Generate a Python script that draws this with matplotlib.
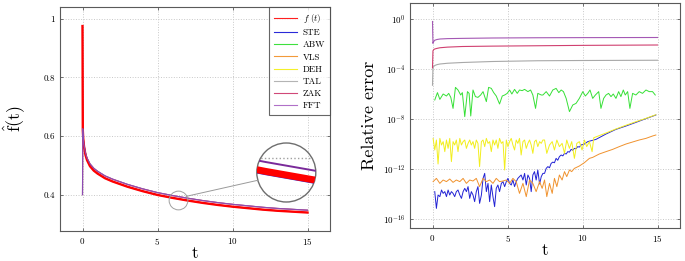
import matplotlib
matplotlib.use("Agg")
import matplotlib.pyplot as plt
from matplotlib.lines import Line2D
from matplotlib.patches import Circle, ConnectionPatch
from matplotlib.transforms import offset_copy
import numpy as np

## fonts / style ##
plt.rcParams['font.family'] = 'serif'
plt.rcParams['font.serif'] = ['cmr10', 'DejaVu Serif']
plt.rcParams['mathtext.fontset'] = 'cm'
plt.rcParams['axes.formatter.use_mathtext'] = True
plt.rcParams['axes.unicode_minus'] = False

## ---------------- data : left panel (approximation f(t)) ---------------- ##
t_left = [0, 0.02, 0.05, 0.1, 0.2, 0.3, 0.5, 0.75, 1, 1.5, 2, 3, 4, 5, 6, 7, 8, 9, 10, 11, 12, 13, 14, 15]
f_exact = [0.975, 0.62, 0.59, 0.565, 0.535, 0.518, 0.497, 0.482, 0.472, 0.456, 0.445, 0.427, 0.412,
           0.399, 0.389, 0.380, 0.372, 0.365, 0.359, 0.354, 0.349, 0.345, 0.342, 0.339]
f_upper = [0.40, 0.625, 0.595, 0.57, 0.542, 0.525, 0.505, 0.49, 0.48, 0.464, 0.453, 0.435, 0.42,
           0.407, 0.397, 0.388, 0.38, 0.373, 0.367, 0.362, 0.357, 0.353, 0.35, 0.347]

legend_labels = [r'$f\ (t)$', 'STE', 'ABW', 'VLS', 'DEH', 'TAL', 'ZAK', 'FFT']
colors = {'f': '#ff2020', 'STE': '#2a2ad8', 'ABW': '#3ee03e', 'VLS': '#f29a3a',
          'DEH': '#f4f02a', 'TAL': '#b4b4b4', 'ZAK': '#d04878', 'FFT': '#b070c8'}

## ---------------- data : right panel (relative errors, log10) ---------------- ##
t_top = [0, 0.03, 0.08, 0.15, 0.3, 0.5, 1, 2, 4, 7, 10, 15]
fft_err = [-0.2, -1.95, -1.8, -1.7, -1.64, -1.6, -1.57, -1.55, -1.52, -1.5, -1.49, -1.48]
zak_err = [-3.9, -2.55, -2.45, -2.4, -2.35, -2.3, -2.25, -2.2, -2.17, -2.14, -2.11, -2.08]
tal_err = [-5.3, -3.9, -3.8, -3.72, -3.65, -3.6, -3.54, -3.48, -3.4, -3.34, -3.32, -3.3]

t_abw = [0.15, 0.33, 0.49, 0.71, 0.93, 1.08, 1.22, 1.37, 1.53, 1.70, 1.88, 1.99, 2.15, 2.33, 2.44,
         2.55, 2.70, 2.86, 3.03, 3.21, 3.37, 3.59, 3.74, 3.92, 4.08, 4.25, 4.47, 4.65, 4.81, 4.98,
         5.14, 5.29, 5.47, 5.65, 5.80, 5.98, 6.14, 6.36, 6.54, 6.69, 6.87, 7.02, 7.25, 7.36, 7.58,
         7.80, 8.02, 8.24, 8.42, 8.58, 8.73, 8.91, 9.13, 9.35, 9.57, 9.79, 10.02, 10.19, 10.35,
         10.50, 10.68, 10.86, 11.08, 11.23, 11.41, 11.57, 11.74, 11.90, 12.05, 12.23, 12.41, 12.56,
         12.72, 12.85, 13.01, 13.16, 13.34, 13.56, 13.78, 14.0, 14.23, 14.45, 14.67, 14.85]
abw_err = [-6.48, -5.89, -6.43, -6.0, -6.16, -5.95, -6.27, -7.15, -5.47, -5.68, -6.08, -5.89, -7.81,
           -5.81, -5.95, -7.76, -5.68, -6.21, -6.27, -6.08, -5.81, -6.61, -5.47, -5.55, -5.89, -6.16,
           -6.8, -6.16, -6.08, -5.95, -5.68, -6.0, -5.63, -5.95, -5.68, -5.73, -5.63, -5.81, -5.68,
           -6.08, -7.15, -5.95, -6.08, -6.08, -5.81, -6.16, -5.68, -5.55, -5.89, -5.68, -5.81, -6.35,
           -7.41, -6.88, -6.75, -6.35, -5.81, -6.16, -5.95, -5.68, -6.35, -6.08, -5.81, -7.15, -6.35,
           -6.08, -5.95, -6.21, -6.0, -6.35, -5.81, -6.21, -5.68, -6.08, -5.81, -7.15, -5.95, -6.08,
           -5.81, -5.95, -5.68, -5.81, -5.81, -6.08]

t_deh = [0.04, 0.15, 0.26, 0.37, 0.49, 0.60, 0.71, 0.82, 0.93, 1.04, 1.15, 1.26, 1.37, 1.48, 1.59,
         1.70, 1.82, 1.93, 2.04, 2.15, 2.26, 2.37, 2.48, 2.59, 2.70, 2.81, 2.92, 3.03, 3.14, 3.26,
         3.37, 3.48, 3.59, 3.70, 3.81, 3.92, 4.03, 4.14, 4.25, 4.36, 4.47, 4.59, 4.70, 4.81, 4.92,
         5.03, 5.14, 5.25, 5.36, 5.47, 5.58, 5.69, 5.80, 5.91, 6.03, 6.14, 6.25, 6.36, 6.47, 6.58,
         6.69, 6.80, 6.91, 7.02, 7.14, 7.25, 7.36, 7.47, 7.62, 7.80, 7.98, 8.13, 8.29, 8.46, 8.64,
         8.80, 8.95, 9.13, 9.28, 9.46, 9.62, 9.79, 9.97, 10.13, 10.28, 10.46, 10.64, 10.75, 11.57,
         12.23, 12.90, 13.56, 14.23, 14.89]
deh_err = [-9.55, -10.48, -9.68, -11.6, -9.55, -10.08, -9.81, -10.61, -9.68, -10.35, -9.55, -11.41,
           -9.81, -10.08, -9.68, -10.61, -9.55, -10.08, -9.81, -9.68, -10.35, -9.95, -9.68, -10.08,
           -9.81, -10.35, -9.68, -9.95, -11.81, -9.81, -9.68, -10.21, -9.55, -9.95, -9.81, -10.61,
           -9.68, -10.08, -9.68, -10.35, -9.55, -9.95, -9.81, -12.08, -9.68, -10.21, -9.81, -9.55,
           -10.08, -10.48, -9.68, -9.95, -9.55, -10.88, -9.81, -9.68, -10.35, -9.95, -9.68, -10.08,
           -10.75, -9.81, -9.68, -10.21, -9.81, -9.95, -9.68, -9.68, -10.75, -10.08, -9.81, -10.48,
           -9.68, -10.21, -9.95, -10.75, -9.68, -10.35, -9.81, -11.15, -9.95, -9.81, -10.48, -9.68,
           -10.21, -9.81, -10.61, -9.5, -9.12, -8.8, -8.5, -8.22, -7.95, -7.66]

t_ste = [0.15, 0.26, 0.37, 0.49, 0.60, 0.71, 0.82, 0.93, 1.04, 1.15, 1.26, 1.37, 1.48, 1.59, 1.70,
         1.82, 1.93, 2.04, 2.15, 2.26, 2.37, 2.48, 2.59, 2.70, 2.81, 2.92, 3.03, 3.14, 3.26, 3.37,
         3.48, 3.59, 3.70, 3.81, 3.92, 4.03, 4.14, 4.25, 4.36, 4.47, 4.59, 4.70, 4.81, 4.92, 5.03,
         5.14, 5.25, 5.36, 5.47, 5.58, 5.69, 5.80, 5.91, 6.03, 6.14, 6.25, 6.36, 6.47, 6.58, 6.69,
         6.80, 6.91, 7.02, 7.14, 7.25, 7.36, 7.47, 7.58, 7.69, 7.80, 7.91, 8.02, 8.13, 8.24, 8.35,
         8.46, 8.58, 8.69, 8.80, 8.91, 9.02, 9.13, 9.24, 9.35, 9.46, 9.57, 9.68, 9.79, 9.90, 10.13,
         10.35, 10.9, 11.57, 12.23, 12.9, 13.56, 14.23, 14.89]
ste_err = [-13.81, -15.15, -14.08, -14.21, -13.68, -13.95, -13.81, -14.21, -13.68, -14.08, -13.81,
           -13.95, -14.21, -13.81, -13.68, -14.08, -14.35, -13.81, -13.55, -13.81, -13.41, -14.35,
           -13.81, -14.08, -14.61, -13.81, -13.41, -14.75, -14.08, -12.75, -12.35, -13.81, -13.15,
           -14.61, -13.28, -14.21, -15.01, -13.55, -13.28, -13.81, -13.15, -13.01, -13.41, -13.01,
           -12.75, -13.15, -13.28, -12.88, -13.41, -13.01, -12.75, -12.61, -12.48, -12.88, -12.35,
           -13.28, -12.48, -12.75, -13.81, -12.48, -12.21, -12.88, -12.08, -13.2, -12.61, -12.35,
           -12.35, -11.95, -11.81, -11.9, -11.55, -11.45, -11.5, -11.15, -11.3, -11.01, -10.88,
           -10.95, -10.75, -10.8, -10.61, -10.65, -10.43, -10.5, -10.35, -10.38, -10.21, -10.25,
           -10.08, -10.0, -9.81, -9.63, -9.2, -8.83, -8.56, -8.27, -7.97, -7.68]

t_vls = [0.04, 0.26, 0.49, 0.71, 0.93, 1.15, 1.37, 1.59, 1.82, 2.04, 2.26, 2.48, 2.70, 2.92, 3.14,
         3.37, 3.59, 3.81, 4.03, 4.25, 4.47, 4.70, 4.92, 5.14, 5.36, 5.58, 5.80, 6.03, 6.25, 6.47,
         6.69, 6.91, 7.14, 7.31, 7.47, 7.62, 7.80, 7.98, 8.13, 8.29, 8.46, 8.64, 8.80, 8.95, 9.13,
         9.28, 9.46, 9.79, 10.13, 10.46, 10.68, 11.12, 11.57, 12.01, 12.45, 12.90, 13.34, 13.78,
         14.23, 14.67, 14.89]
vls_err = [-13.01, -12.75, -13.15, -12.88, -13.01, -12.8, -13.07, -12.88, -13.01, -12.75, -13.15,
           -12.88, -12.96, -12.75, -13.41, -12.75, -13.01, -12.88, -13.15, -12.75, -13.01, -12.96,
           -12.88, -13.15, -12.75, -13.01, -13.95, -13.15, -14.21, -12.88, -13.15, -13.81, -13.01,
           -13.55, -12.88, -14.21, -13.15, -13.95, -12.75, -13.41, -12.48, -12.88, -12.21, -12.61,
           -12.08, -12.21, -11.95, -11.76, -11.49, -11.15, -11.07, -10.8, -10.61, -10.43, -10.21,
           -10.0, -9.84, -9.68, -9.55, -9.36, -9.28]

## ---------------- figure ---------------- ##
fig = plt.figure(figsize=(6.85, 2.61), dpi=100)
ax1 = fig.add_axes([60 / 685, 30 / 261, 270 / 685, 224 / 261])
ax2 = fig.add_axes([410 / 685, 33 / 261, 270 / 685, 225 / 261])

def style_axis(ax):
    for sp in ax.spines.values():
        sp.set_color('#5a5a5a')
        sp.set_linewidth(0.8)
    ax.tick_params(direction='in', length=2.5, width=0.6, color='#5a5a5a',
                   top=True, right=True, labelsize=6.5, pad=3.5)
    ax.grid(True, which='major', linestyle=':', color='#c8c8c8', linewidth=0.7)
    ax.set_axisbelow(True)

## left panel ##
style_axis(ax1)
ax1.plot(t_left, f_upper, color=colors['TAL'], lw=0.8)
ax1.plot(t_left, f_upper, color=colors['ZAK'], lw=0.8)
ax1.plot(t_left, f_exact, color=colors['STE'], lw=0.8)
ax1.plot(t_left, f_exact, color='#ff0000', lw=1.7)
ax1.plot(t_left, f_upper, color='#8c4cb4', lw=0.8)
ax1.set_xlim(-1.5, 16.5)
ax1.set_ylim(0.276, 1.04)
ax1.set_xticks([0, 5, 10, 15])
ax1.set_yticks([0.4, 0.6, 0.8, 1.0])
ax1.set_yticklabels(['0.4', '0.6', '0.8', '1'])
ax1.set_xlabel('t', fontsize=12, labelpad=-1)
ax1.set_ylabel(r'$\hat{\mathrm{f}}(\mathrm{t})$', fontsize=13, labelpad=12)

handles = [Line2D([], [], color=colors[k], lw=0.8) for k in ['f', 'STE', 'ABW', 'VLS', 'DEH', 'TAL', 'ZAK', 'FFT']]
leg = ax1.legend(handles, legend_labels, loc='upper right', fontsize=6.5, frameon=True,
                 fancybox=False, borderaxespad=0, handlelength=2.6, handletextpad=0.6,
                 labelspacing=0.42, borderpad=0.55)
leg.get_frame().set_edgecolor('#404040')
leg.get_frame().set_linewidth(0.8)

## magnifier ##
zoom_t, zoom_y = 6.35, 0.381
ax1.plot([zoom_t], [zoom_y], marker='o', markersize=13.5, markerfacecolor='none',
         markeredgecolor='#a0a0a0', markeredgewidth=0.7)
ax_in = fig.add_axes([256.8 / 685, 59 / 261, 59 / 685, 59 / 261])
ax_in.set_axis_off()
mag = 4.0
half_t = 29.5 / (15.0 * mag)
half_y = 29.5 / (293.0 * mag)
ax_in.set_xlim(zoom_t - half_t, zoom_t + half_t)
ax_in.set_ylim(0.388 - half_y, 0.388 + half_y)
clip = Circle((0.5, 0.5), 0.5, transform=ax_in.transAxes, facecolor='none')
ax_in.add_patch(clip)
blue_tr = offset_copy(ax_in.transData, fig=fig, y=-3.2, units='dots')
ins_lines = [
    ax_in.axhline(0.4, color='#a0a0a0', ls=':', lw=1.0),
    ax_in.plot(t_left, f_exact, color=colors['STE'], lw=0.9, transform=blue_tr)[0],
    ax_in.plot(t_left, f_exact, color='#ff0000', lw=5.0)[0],
    ax_in.plot(t_left, f_upper, color='#7a2a9a', lw=1.4)[0],
]
for ln in ins_lines:
    ln.set_clip_path(clip)
ring = Circle((0.5, 0.5), 0.5, transform=ax_in.transAxes, facecolor='none',
              edgecolor='#6e6e6e', lw=1.0, clip_on=False)
ax_in.add_patch(ring)
con = ConnectionPatch(xyA=(zoom_t + 0.55, zoom_y + 0.013), coordsA=ax1.transData,
                      xyB=(0.025, 0.37), coordsB=ax_in.transAxes, color='#9a9a9a', lw=0.7)
fig.add_artist(con)

## right panel ##
style_axis(ax2)
ax2.set_yscale('log')
ax2.plot(t_ste, 10.0 ** np.array(ste_err), color='#2222d4', lw=0.7)
ax2.plot(t_abw, 10.0 ** np.array(abw_err), color='#36e036', lw=0.7)
ax2.plot(t_vls, 10.0 ** np.array(vls_err), color='#f0922e', lw=0.7)
ax2.plot(t_deh, 10.0 ** np.array(deh_err), color='#f2ee1e', lw=0.7)
ax2.plot(t_top, 10.0 ** np.array(tal_err), color='#a8a8a8', lw=0.8)
ax2.plot(t_top, 10.0 ** np.array(zak_err), color='#d04070', lw=0.8)
ax2.plot(t_top, 10.0 ** np.array(fft_err), color='#a458b4', lw=0.8)
ax2.set_xlim(-1.5, 16.5)
ax2.set_ylim(10 ** -16.72, 10 ** 1.28)
ax2.set_xticks([0, 5, 10, 15])
ax2.set_yticks([1e0, 1e-4, 1e-8, 1e-12, 1e-16])
ax2.minorticks_off()
ax2.tick_params(which='minor', left=False, right=False)
ax2.set_xlabel('t', fontsize=12, labelpad=-1)
ax2.set_ylabel('Relative error', fontsize=13, labelpad=4)

fig.savefig('out.png', dpi=100)
